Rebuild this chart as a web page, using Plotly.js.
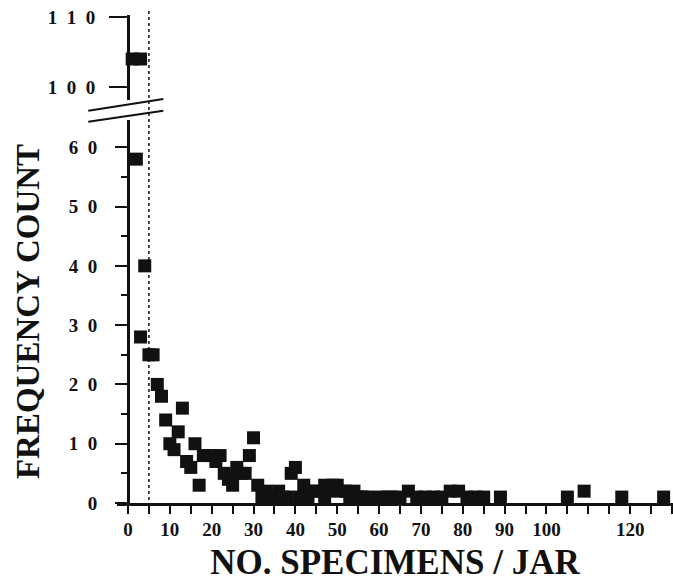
<!DOCTYPE html>
<html>
<head>
<meta charset="utf-8">
<script src="https://cdn.plot.ly/plotly-3.0.1.min.js"></script>
<style>html,body{margin:0;padding:0;background:#fff;}#chart{width:673px;height:583px;}</style>
</head>
<body>
<div id="chart"></div>
<script>
// ---- data ----
const lowerX = [2, 4, 3, 5, 6, 7, 8, 13, 9, 12, 10, 11, 16, 14, 15, 17, 18, 20, 22, 21, 23, 24, 25, 26, 27, 28, 29, 30, 31,
  32, 33, 34, 35, 36, 37, 38, 39, 40, 41, 42, 43, 44, 45, 47, 47, 48, 49, 50, 51, 52, 53, 54, 55, 56, 57,
  60, 62, 63, 65, 67, 69, 71, 73, 75, 77, 79, 81, 83, 85, 89, 105, 109, 118, 128];
const lowerY = [58, 40, 28, 25, 25, 20, 18, 16, 14, 12, 10, 9, 10, 7, 6, 3, 8, 8, 8, 7, 5, 4, 3, 6, 5, 5, 8, 11, 3,
  1, 2, 1, 1, 2, 1, 1, 5, 6, 1, 3, 1, 2, 2, 1, 3, 2, 3, 3, 2, 2, 1, 2, 1, 1, 1,
  1, 1, 1, 1, 2, 1, 1, 1, 1, 2, 2, 1, 1, 1, 1, 1, 2, 1, 1];
const upperX = [1, 3];
const upperY = [104, 104];

const xTickVals = [0, 10, 20, 30, 40, 50, 60, 70, 80, 90, 100, 120];
const xTickText = ['0', '10', '20', '30', '40', '50', '60', '70', '80', '90', '100', '120'];
const yTickVals = [0, 10, 20, 30, 40, 50, 60];
const yTickText = ['0', '1\u20020', '2\u20020', '3\u20020', '4\u20020', '5\u20020', '6\u20020'];
const y2TickVals = [100, 110];
const y2TickText = ['1\u20020\u20020', '1\u20021\u20020'];
const markerLine = 5; // dotted reference line position (x value)

const INK = '#111111';
const SERIF = 'Liberation Serif, Times New Roman, serif';

const traces = [
  {x: lowerX, y: lowerY, xaxis: 'x', yaxis: 'y', type: 'scatter', mode: 'markers', cliponaxis: false,
   marker: {symbol: 'square', size: 13, color: INK, line: {width: 0}}, hoverinfo: 'skip'},
  {x: upperX, y: upperY, xaxis: 'x', yaxis: 'y2', type: 'scatter', mode: 'markers', cliponaxis: false,
   marker: {symbol: 'square', size: 13, color: INK, line: {width: 0}}, hoverinfo: 'skip'}
];

const layout = {
  width: 673, height: 583,
  margin: {l: 117, r: 0, t: 15, b: 80},
  paper_bgcolor: '#fff', plot_bgcolor: '#fff',
  showlegend: false,
  xaxis: {
    domain: [0, 1], range: [-2.63, 130.24], anchor: 'y',
    showline: true, linewidth: 2.5, linecolor: INK,
    showgrid: false, zeroline: false,
    ticks: 'outside', ticklen: 8, tickwidth: 2, tickcolor: INK,
    tickmode: 'array', tickvals: xTickVals, ticktext: xTickText,
    tickfont: {family: SERIF, size: 19, color: INK, weight: 'bold'},
    minor: {tickmode: 'linear', tick0: 0, dtick: 5, ticks: 'outside', ticklen: 8, tickwidth: 2, tickcolor: INK, showgrid: false},
    title: {text: 'NO. SPECIMENS / JAR', font: {family: SERIF, size: 35, color: INK, weight: 'bold'}, standoff: 10}
  },
  yaxis: {
    domain: [0, 0.7848], range: [0, 64.6], anchor: 'free', position: 0.0198,
    showline: true, linewidth: 2.5, linecolor: INK,
    showgrid: false, zeroline: false,
    ticks: 'outside', ticklen: 12, tickwidth: 2, tickcolor: INK,
    tickmode: 'array', tickvals: yTickVals, ticktext: yTickText,
    ticklabelstandoff: 14,
    tickfont: {family: SERIF, size: 19, color: INK, weight: 'bold'},
    minor: {tickmode: 'linear', tick0: 0, dtick: 5, ticks: 'outside', ticklen: 6, tickwidth: 2, tickcolor: INK, showgrid: false},
    title: {text: 'FREQUENCY COUNT', font: {family: SERIF, size: 33, color: INK, weight: 'bold'}, standoff: 18}
  },
  yaxis2: {
    domain: [0.8258, 1], range: [98.14, 110.29], anchor: 'free', position: 0.0198,
    showline: true, linewidth: 2.5, linecolor: INK,
    showgrid: false, zeroline: false,
    ticks: 'outside', ticklen: 18, tickwidth: 2, tickcolor: INK,
    tickmode: 'array', tickvals: y2TickVals, ticktext: y2TickText,
    ticklabelstandoff: 10,
    tickfont: {family: SERIF, size: 19, color: INK, weight: 'bold'}
  },
  shapes: [
    {type: 'line', xref: 'x', yref: 'paper', x0: markerLine, x1: markerLine, y0: 0.006, y1: 1.014,
     line: {color: INK, width: 1.5, dash: 'dot'}},
    {type: 'line', xref: 'paper', yref: 'paper', x0: -0.0516, x1: 0.0833, y0: 0.8039, y1: 0.8279,
     line: {color: INK, width: 2}},
    {type: 'line', xref: 'paper', yref: 'paper', x0: -0.0516, x1: 0.0833, y0: 0.7813, y1: 0.8039,
     line: {color: INK, width: 2}}
  ]
};

Plotly.newPlot('chart', traces, layout, {staticPlot: true, displayModeBar: false});
</script>
</body>
</html>
